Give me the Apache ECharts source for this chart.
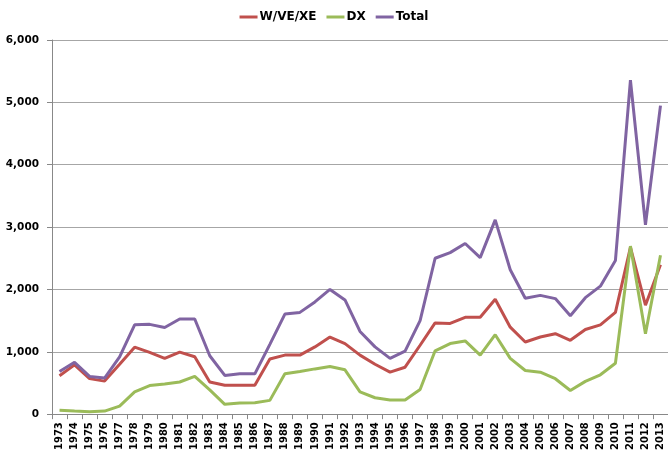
<!DOCTYPE html>
<html><head><meta charset="utf-8">
<script src="https://cdn.jsdelivr.net/npm/echarts@6/dist/echarts.min.js"></script>
<style>html,body{margin:0;padding:0;background:#fff}#c{width:668px;height:453px}</style>
</head><body><div id="c"></div>
<script>
var years = [];
for (var y = 1973; y <= 2013; y++) years.push(String(y));
var wvexe = [616,790,570,530,800,1074,990,895,995,921,516,463,463,463,884,947,947,1079,1237,1132,947,800,674,753,1105,1463,1455,1553,1553,1842,1395,1158,1237,1290,1184,1358,1432,1632,2674,1748,2395];
var dx = [63,50,40,50,130,358,458,484,516,605,390,158,180,184,221,647,684,726,763,711,358,263,226,226,395,1016,1132,1174,947,1274,895,700,674,568,379,526,632,816,2695,1289,2548];
var total = [684,832,605,579,920,1432,1440,1390,1526,1526,937,621,647,647,1120,1605,1632,1800,2000,1832,1326,1079,895,1011,1500,2500,2590,2737,2511,3116,2316,1858,1905,1853,1579,1868,2053,2463,5358,3037,4948];
var yTicks = [0,1000,2000,3000,4000,5000,6000];

var chart = echarts.init(document.getElementById('c'), null, {renderer:'canvas'});
function s(name, data, color){
  return {name:name, type:'line', data:data, symbol:'none', smooth:false,
    lineStyle:{width:3, color:color}, itemStyle:{color:color}, animation:false};
}
chart.setOption({
  animation:false,
  legend:{top:6, left:'center', itemGap:10, itemWidth:18, itemHeight:3, icon:'rect',
    textStyle:{fontFamily:'DejaVu Sans', fontWeight:'bold', fontSize:12, color:'#000', padding:[0,0,0,-3]},
    data:['W/VE/XE','DX','Total']},
  grid:{left:52, right:0, top:40, bottom:33, containLabel:false},
  xAxis:{type:'category', data:years, boundaryGap:true,
    axisLine:{lineStyle:{color:'#888'}},
    axisTick:{show:true, interval:0, length:5, lineStyle:{color:'#888'}},
    axisLabel:{interval:0, rotate:90, fontSize:10, fontWeight:'bold', fontFamily:'DejaVu Sans', color:'#000', margin:8}},
  yAxis:{type:'value', min:yTicks[0], max:yTicks[yTicks.length-1], interval:1000,
    axisLine:{show:true, lineStyle:{color:'#888'}},
    axisTick:{show:true, length:5, lineStyle:{color:'#888'}},
    splitLine:{lineStyle:{color:'#a6a6a6', width:1}},
    axisLabel:{fontSize:10.5, fontWeight:'bold', fontFamily:'DejaVu Sans', color:'#000', margin:13,
      formatter:function(v){return v.toLocaleString('en-US');}}},
  series:[s('W/VE/XE', wvexe, '#C0504D'), s('DX', dx, '#9BBB59'), s('Total', total, '#8064A2')]
});
</script></body></html>
